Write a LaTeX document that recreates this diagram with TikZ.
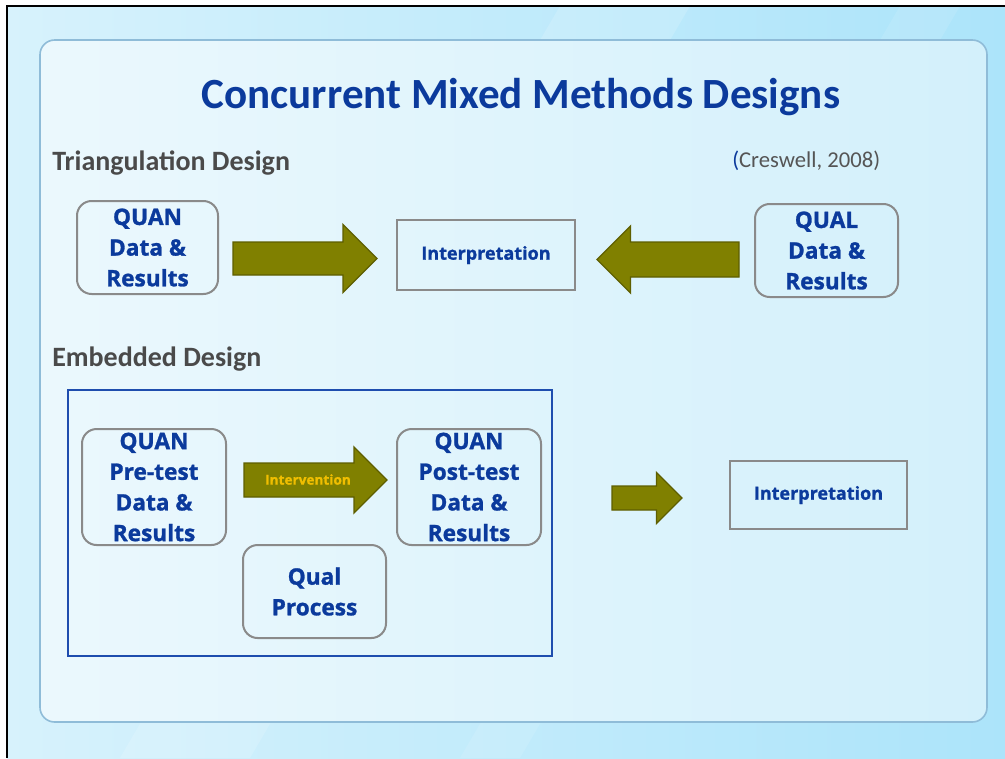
\documentclass[tikz,border=0pt]{standalone}
\usepackage{fontspec}
\setmainfont{Carlito}
\newfontfamily\boxfont[BoldFeatures={FakeBold=1.2}]{Open Sans}
\usetikzlibrary{calc}

\definecolor{titleblue}{HTML}{0B3A9C}
\definecolor{headgray}{HTML}{4A4A4A}
\definecolor{citegray}{HTML}{555555}
\definecolor{boxgray}{HTML}{8A8A8A}
\definecolor{olivefill}{HTML}{808000}
\definecolor{olivedraw}{HTML}{5E5E00}
\definecolor{frameblue}{HTML}{1E4DAE}
\definecolor{bgleft}{HTML}{D7F2FC}
\definecolor{bgright}{HTML}{ACE4FA}
\definecolor{panelleft}{HTML}{EBF8FD}
\definecolor{panelright}{HTML}{D3F0FB}
\definecolor{paneledge}{HTML}{8FBCD8}
\definecolor{intvgold}{HTML}{F0BE00}

\tikzset{
  databox/.style 2 args={draw=boxgray, line width=1.5pt, rounded corners=11pt, inner sep=0pt,
    minimum width=#1*0.75pt, minimum height=#2*0.75pt, align=center, text=titleblue,
    font=\boxfont\bfseries\fontsize{17}{23}\selectfont},
  interpbox/.style 2 args={draw=boxgray, line width=1.5pt, inner sep=0pt,
    minimum width=#1*0.75pt, minimum height=#2*0.75pt, text=titleblue,
    font=\boxfont\bfseries\fontsize{13.5}{16}\selectfont},
  heading/.style={anchor=base west, inner sep=0pt, text=headgray,
    font=\bfseries\fontsize{21}{24}\selectfont},
  fatarrow/.style={fill=olivefill, draw=olivedraw, line width=1pt, line join=miter},
}

% block arrow: from #1 to #2, shaft half height #3, head half height #4 (px)
\newcommand{\fatarrow}[4]{%
  \path[fatarrow] let \p1=(#1), \p2=(#2), \n1={sign(\x2-\x1)*#4*0.75}, \n2={#3*0.75}, \n3={#4*0.75} in
    (\x1,\y1+\n2) -- (\x2-\n1,\y1+\n2) -- (\x2-\n1,\y1+\n3) -- (\x2,\y1)
    -- (\x2-\n1,\y1-\n3) -- (\x2-\n1,\y1-\n2) -- (\x1,\y1-\n2) -- cycle;}

\begin{document}
\begin{tikzpicture}[x=0.75pt, y=-0.75pt]
\useasboundingbox (0,0) rectangle (1005,758);

% slide background
\fill[white] (0,0) rectangle (1005,758);
\shade[left color=bgleft, right color=bgright] (7,6) rectangle (1005,758);
\fill[white, opacity=0.15] (560,6) -- (690,6) -- (250,758) -- (120,758) -- cycle;
\fill[white, opacity=0.10] (900,6) -- (960,6) -- (520,758) -- (460,758) -- cycle;
\draw[black, line width=2pt] (7,758) -- (7,6) -- (1005,6);

% panel
\shade[left color=panelleft, right color=panelright, rounded corners=11pt] (40,40) rectangle (987,722);
\draw[paneledge, line width=1.2pt, rounded corners=11pt] (40,40) rectangle (987,722);

\node[anchor=base, inner sep=0pt, text=titleblue, font=\bfseries\fontsize{32.3}{36}\selectfont]
  (title) at (521,108) {Concurrent Mixed Methods Designs};

% triangulation design
\node[heading] (tri) at (52,170) {Triangulation Design};
\node[anchor=base west, inner sep=0pt, text=citegray, font=\fontsize{17}{19}\selectfont]
  (cite) at (732,167) {\textcolor{titleblue}{(}Creswell, 2008)};

\node[databox={141}{93}] (quan) at (147.5,247.5) {QUAN\\Data \&\\Results};
\node[interpbox={178}{70}] (interpA) at (486,255) {Interpretation};
\node[databox={143}{93}] (qual) at (826.5,250.5) {QUAL\\Data \&\\Results};

\coordinate (a1s) at (233,258.5); \coordinate (a1e) at (377,258.5);
\coordinate (a2s) at (739,259.5); \coordinate (a2e) at (597,259.5);
\fatarrow{a1s}{a1e}{16.5}{34}
\fatarrow{a2s}{a2e}{17.5}{33.5}

% embedded design
\node[heading] (emb) at (52,366) {Embedded Design};
\node[draw=frameblue, line width=2pt, inner sep=0pt, minimum width=484*0.75pt,
  minimum height=266*0.75pt] (embed) at (310,523) {};

\node[databox={144}{116}] (pre) at (154,487) {QUAN\\Pre-test\\Data \&\\Results};
\node[databox={144}{116}] (post) at (469,487) {QUAN\\Post-test\\Data \&\\Results};
\node[databox={143}{93}] (qualproc) at (314.5,591.5) {Qual\\Process};
\node[interpbox={177}{68}] (interpB) at (818.5,495) {Interpretation};

\coordinate (a3s) at (244,480); \coordinate (a3e) at (387,480);
\coordinate (a4s) at (612,498); \coordinate (a4e) at (682,498);
\fatarrow{a3s}{a3e}{17}{33}
\fatarrow{a4s}{a4e}{12}{25.5}
\node[inner sep=0pt, text=intvgold, font=\boxfont\bfseries\fontsize{10.2}{12}\selectfont]
  (intv) at (308,479.5) {Intervention};
\end{tikzpicture}
\end{document}
